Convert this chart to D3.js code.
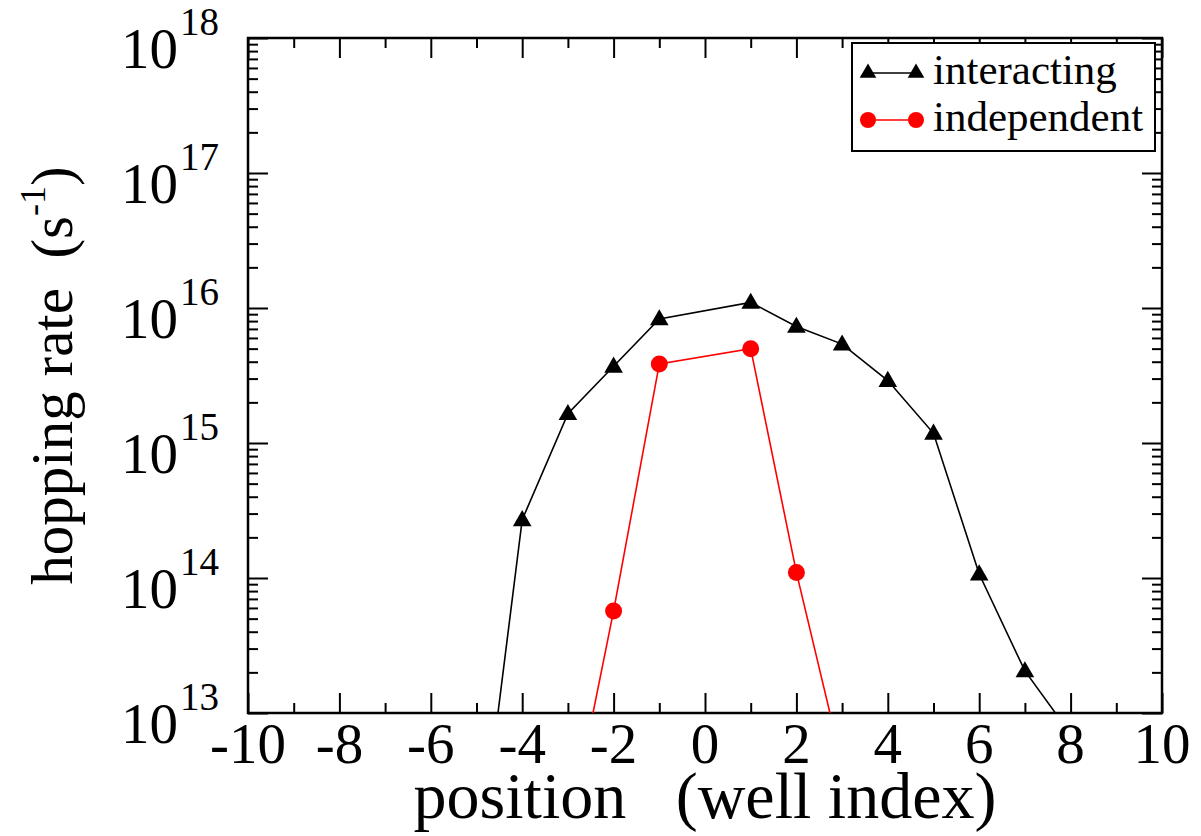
<!DOCTYPE html>
<html>
<head>
<meta charset="utf-8">
<script src="https://cdn.jsdelivr.net/npm/d3@7"></script>
<style>
  html, body { margin: 0; padding: 0; background: #fff; }
</style>
</head>
<body>
<div id="chart"></div>
<script>
// data
var positions = [-5, -4, -3, -2, -1, 1, 2, 3, 4, 5, 6, 7, 8];
var interacting = [5.4e11, 2.7e14, 1.65e15, 3.7e15, 8.3e15, 1.1e16, 7.3e15, 5.4e15, 2.9e15, 1.18e15, 1.07e14, 2.05e13, 7e12];
var indepPositions = [-3, -2, -1, 1, 2, 3];
var independent = [1.2e12, 5.7e13, 3.85e15, 5.0e15, 1.1e14, 4.2e12];
var xTicks = [-10, -8, -6, -4, -2, 0, 2, 4, 6, 8, 10];
var yExponents = [13, 14, 15, 16, 17, 18];
var legendLabels = ["interacting", "independent"];

const W = 1201, H = 836;
const margin = { top: 38, right: 39, bottom: 123, left: 248 };
const width = W - margin.left - margin.right;
const height = H - margin.top - margin.bottom;
const serif = "'Liberation Serif', 'Times New Roman', Times, Tinos, 'DejaVu Serif', serif";

var root = d3.select("#chart").append("svg")
    .attr("width", W)
    .attr("height", H)
    .attr("font-family", serif)
    .style("font-family", serif);

var svg = root.append("g")
    .attr("transform", `translate(${margin.left},${margin.top})`);

// scales
var xScale = d3.scaleLinear().domain([-10, 10]).range([0, width]);
var yScale = d3.scaleLog().domain([1e13, 1e18]).range([height, 0]);

var minorX = d3.range(-9, 10, 2);
var minorY = [];
yExponents.slice(0, -1).forEach(e => {
    for (let k = 2; k <= 9; k++) minorY.push(k * Math.pow(10, e));
});
var majorY = yExponents.map(e => Math.pow(10, e));

// ticks on all four sides, pointing inward
const axes = [
    [() => d3.axisTop(xScale), xTicks, minorX, `translate(0,${height})`],
    [() => d3.axisBottom(xScale), xTicks, minorX, "translate(0,0)"],
    [() => d3.axisRight(yScale), majorY, minorY, "translate(0,0)"],
    [() => d3.axisLeft(yScale), majorY, minorY, `translate(${width},0)`]
];
axes.forEach(([mk, major, minor, tr]) => {
    svg.append("g").attr("transform", tr)
        .call(mk().tickValues(major).tickSize(20).tickSizeOuter(0).tickFormat(""));
    svg.append("g").attr("transform", tr)
        .call(mk().tickValues(minor).tickSize(10).tickSizeOuter(0).tickFormat(""));
});
svg.selectAll(".domain").remove();
svg.selectAll(".tick line").attr("stroke", "#000").attr("stroke-width", 2);

// frame
svg.append("rect")
    .attr("width", width)
    .attr("height", height)
    .attr("fill", "none")
    .attr("stroke", "#000")
    .attr("stroke-width", 2.5);

// x tick labels
svg.append("g").selectAll("text")
    .data(xTicks)
    .enter().append("text")
    .attr("x", d => xScale(d))
    .attr("y", height + 50)
    .attr("text-anchor", "middle")
    .style("font-size", "57px")
    .text(d => d);

// y tick labels with superscript exponents
var yl = svg.append("g").selectAll("text")
    .data(yExponents)
    .enter().append("text")
    .attr("x", -29)
    .attr("y", d => yScale(Math.pow(10, d)) + 30)
    .attr("text-anchor", "end")
    .style("font-size", "57px");
yl.append("tspan").text("10");
yl.append("tspan").attr("dx", 2).attr("dy", -33).style("font-size", "39px").text(d => d);

// axis titles
svg.append("text")
    .attr("x", width / 2)
    .attr("y", height + 105)
    .attr("text-anchor", "middle")
    .style("font-size", "66px")
    .style("white-space", "pre")
    .text("position   (well index)");

var yt = root.append("text")
    .attr("transform", `translate(72,${margin.top + height / 2}) rotate(-90)`)
    .attr("text-anchor", "middle")
    .style("font-size", "59px")
    .style("white-space", "pre");
yt.append("tspan").text("hopping rate  (s");
yt.append("tspan").attr("dy", -27).style("font-size", "36px").text("-1");
yt.append("tspan").attr("dy", 27).text(")");

// data
svg.append("clipPath").attr("id", "clip")
    .append("rect").attr("width", width).attr("height", height);

var plot = svg.append("g").attr("clip-path", "url(#clip)");

var seriesA = positions.map((p, i) => ({ x: p, y: interacting[i] }));
var seriesB = indepPositions.map((p, i) => ({ x: p, y: independent[i] }));

var line = d3.line()
    .x(d => xScale(d.x))
    .y(d => yScale(d.y));

plot.append("path")
    .datum(seriesA)
    .attr("d", line)
    .attr("fill", "none")
    .attr("stroke", "#000")
    .attr("stroke-width", 1.6);

plot.append("path")
    .datum(seriesB)
    .attr("d", line)
    .attr("fill", "none")
    .attr("stroke", "#ff0000")
    .attr("stroke-width", 1.6);

var tri = d3.symbol().type(d3.symbolTriangle).size(150);

plot.selectAll(".tri")
    .data(seriesA)
    .enter().append("path")
    .attr("class", "tri")
    .attr("d", tri)
    .attr("transform", d => `translate(${xScale(d.x)},${yScale(d.y) + 1})`)
    .attr("fill", "#000");

plot.selectAll(".dot")
    .data(seriesB)
    .enter().append("circle")
    .attr("class", "dot")
    .attr("cx", d => xScale(d.x))
    .attr("cy", d => yScale(d.y))
    .attr("r", 8.5)
    .attr("fill", "#ff0000");

// legend
var legend = root.append("g").attr("transform", "translate(852,43)");
legend.append("rect")
    .attr("width", 303)
    .attr("height", 108)
    .attr("fill", "#fff")
    .attr("stroke", "#000")
    .attr("stroke-width", 2);

var colors = ["#000", "#ff0000"];
legendLabels.forEach((lab, i) => {
    var g = legend.append("g").attr("transform", `translate(0,${30 + i * 47})`);
    g.append("line")
        .attr("x1", 16).attr("x2", 64)
        .attr("stroke", colors[i]).attr("stroke-width", 1.6);
    [16, 64].forEach(cx => {
        if (i === 0) {
            g.append("path").attr("d", d3.symbol().type(d3.symbolTriangle).size(120))
                .attr("transform", `translate(${cx},0)`).attr("fill", colors[i]);
        } else {
            g.append("circle").attr("cx", cx).attr("r", 8).attr("fill", colors[i]);
        }
    });
    g.append("text")
        .attr("x", 81)
        .attr("y", 11)
        .style("font-size", "43px")
        .text(lab);
});
</script>
</body>
</html>
